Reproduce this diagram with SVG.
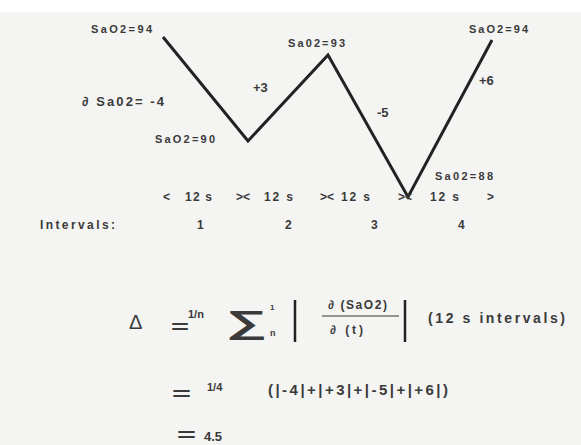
<svg xmlns="http://www.w3.org/2000/svg" width="581" height="445" viewBox="0 0 581 445">
<style>
text{font-family:"Liberation Sans","DejaVu Sans",Arial,sans-serif;font-weight:bold;fill:#3a3a3a}
.s{font-size:11px}
.m{font-size:13px}
.r{font-size:12px}
.eq{font-size:19px}
.bar{stroke:#222;stroke-width:2.5;fill:none}
</style>
<rect x="0" y="0" width="581" height="445" fill="#f4f4f2"/>
<rect x="0" y="0" width="581" height="12" fill="#ffffff"/>
<g id="trace">
<polyline points="163,37 248,141 328,55 408,197 492,40" fill="none" stroke="#222" stroke-width="3" stroke-linejoin="miter"/>
</g>
<g id="labels">
<text class="s" x="91" y="33" textLength="61" lengthAdjust="spacing">SaO2=94</text>
<text class="s" x="288" y="47" textLength="57" lengthAdjust="spacing">Sa02=93</text>
<text class="s" x="469" y="33" textLength="59" lengthAdjust="spacing">SaO2=94</text>
<text class="s" x="155" y="143" textLength="60" lengthAdjust="spacing">SaO2=90</text>
<text class="s" x="435" y="180" textLength="58" lengthAdjust="spacing">Sa02=88</text>
<text class="m" x="82" y="106" textLength="82" lengthAdjust="spacing">∂ Sa02= -4</text>
<text class="m" x="253" y="92">+3</text>
<text class="m" x="377" y="117">-5</text>
<text class="m" x="479" y="85">+6</text>
</g>
<g id="time-row">
<text class="r" x="163" y="201">&lt;</text>
<text class="r" x="185" y="201" textLength="27" lengthAdjust="spacing">12 s</text>
<text class="r" x="236" y="201">&gt;&lt;</text>
<text class="r" x="264" y="201" textLength="29" lengthAdjust="spacing">12 s</text>
<text class="r" x="320" y="201">&gt;&lt;</text>
<text class="r" x="341" y="201" textLength="29" lengthAdjust="spacing">12 s</text>
<text class="r" x="398" y="201">&gt;&lt;</text>
<text class="r" x="430" y="201" textLength="29" lengthAdjust="spacing">12 s</text>
<text class="r" x="487" y="201">&gt;</text>
</g>
<g id="intervals">
<text class="r" x="40" y="229" textLength="75" lengthAdjust="spacing">Intervals:</text>
<text class="r" x="197" y="229">1</text>
<text class="r" x="285" y="229">2</text>
<text class="r" x="371" y="229">3</text>
<text class="r" x="458" y="229">4</text>
</g>
<g id="formula">
<text x="129" y="329" style="font-size:20px;font-weight:normal">Δ</text>
<text class="eq" x="171" y="333" textLength="18" lengthAdjust="spacingAndGlyphs">=</text>
<text class="s" x="188" y="318">1/n</text>
<text x="226" y="333" style="font-size:32px" textLength="41" lengthAdjust="spacingAndGlyphs">∑</text>
<text x="270" y="310" style="font-size:8px">1</text>
<text x="270" y="336" style="font-size:9px">n</text>
<line class="bar" x1="295" y1="300" x2="295" y2="342"/>
<text class="r" x="328" y="309" textLength="59" lengthAdjust="spacing">∂ (SaO2)</text>
<line x1="322" y1="316" x2="399" y2="316" stroke="#333" stroke-width="1.2"/>
<text class="r" x="330" y="334" textLength="33" lengthAdjust="spacing">∂ (t)</text>
<line class="bar" x1="405" y1="300" x2="405" y2="342"/>
<text x="428" y="323" style="font-size:14px" textLength="137" lengthAdjust="spacing">(12 s intervals)</text>
</g>
<g id="step2">
<text class="eq" x="172" y="400" textLength="19" lengthAdjust="spacingAndGlyphs">=</text>
<text class="s" x="207" y="391">1/4</text>
<text x="268" y="395" style="font-size:15px" textLength="180" lengthAdjust="spacing">(|-4|+|+3|+|-5|+|+6|)</text>
</g>
<g id="result">
<text class="eq" x="177" y="441" textLength="19" lengthAdjust="spacingAndGlyphs">=</text>
<text class="m" x="204" y="441">4.5</text>
</g>
</svg>
